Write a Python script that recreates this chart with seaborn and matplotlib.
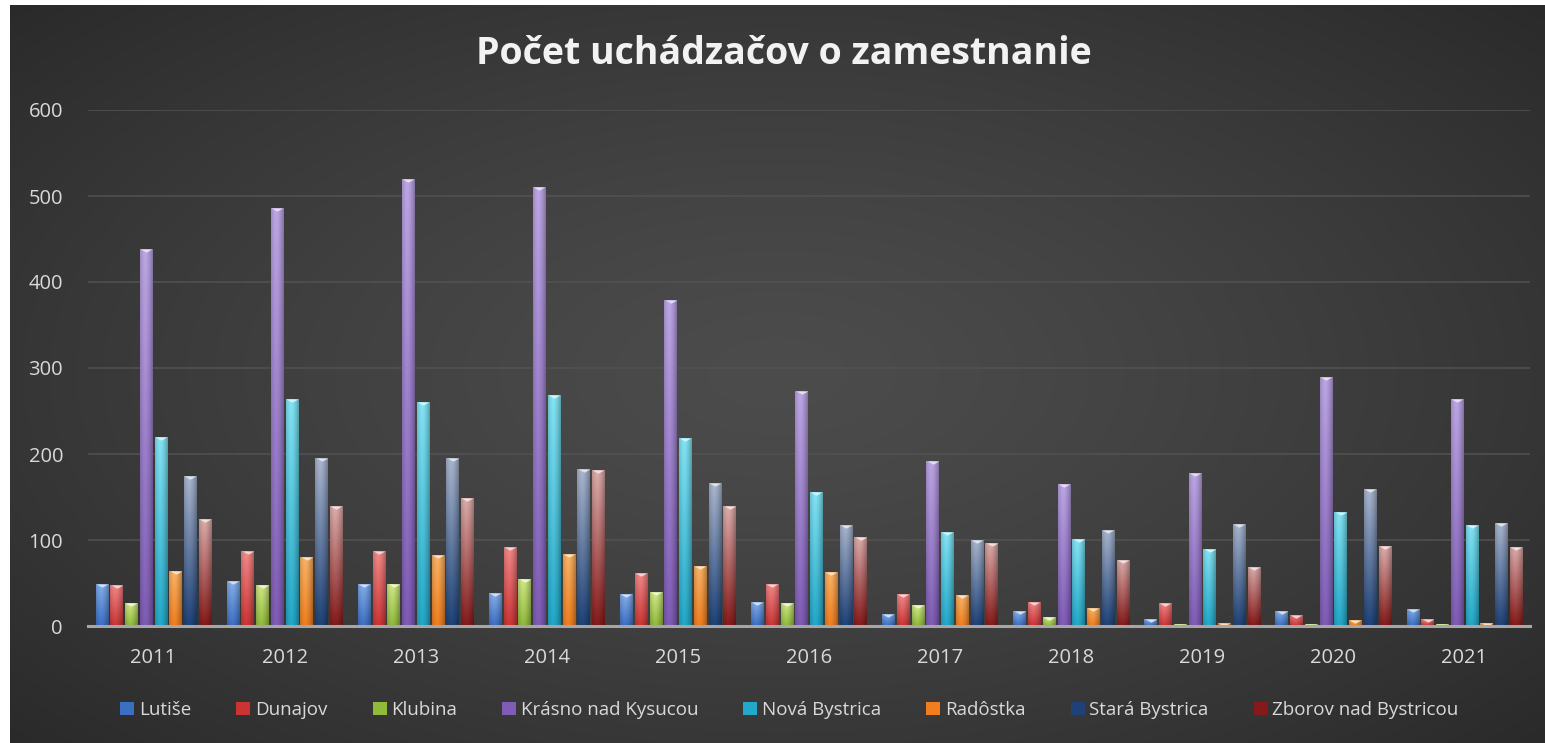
import numpy as np
import pandas as pd
import seaborn as sns
import matplotlib.pyplot as plt
from matplotlib.colors import to_rgb
from matplotlib.patches import Patch, Rectangle
from matplotlib.path import Path

# Údaje odčítané z grafu
roky = ['2011', '2012', '2013', '2014', '2015', '2016', '2017', '2018', '2019', '2020', '2021']
obce = ['Lutiše', 'Dunajov', 'Klubina', 'Krásno nad Kysucou', 'Nová Bystrica',
        'Radôstka', 'Stará Bystrica', 'Zborov nad Bystricou']
lutise = [49, 52, 49, 38, 37, 28, 14, 17, 8, 17, 20]
dunajov = [48, 87, 87, 92, 62, 49, 37, 28, 27, 13, 8]
klubina = [27, 48, 49, 55, 39, 27, 24, 10, 2, 2, 2]
krasno = [438, 486, 520, 511, 379, 273, 192, 165, 178, 289, 264]
nova_bystrica = [220, 264, 261, 269, 219, 156, 109, 101, 90, 133, 118]
radostka = [64, 80, 83, 84, 70, 63, 36, 21, 4, 7, 3]
stara_bystrica = [174, 195, 195, 182, 166, 118, 100, 112, 119, 159, 120]
zborov = [125, 139, 149, 181, 139, 104, 97, 77, 69, 93, 92]

hodnoty = [lutise, dunajov, klubina, krasno, nova_bystrica, radostka, stara_bystrica, zborov]

# farby: (hore, dole)
farby = [('#86b0ec', '#3b6fc4'), ('#f48a8a', '#cc3434'), ('#d2ea88', '#8fba3a'),
         ('#bca6e4', '#7f5cb6'), ('#84e4f4', '#22a8c8'), ('#fab466', '#f07e1e'),
         ('#aab6ce', '#1e4278'), ('#dcaeac', '#861a1a')]

df = pd.DataFrame({
    'rok': np.repeat([roky], len(obce), axis=0).ravel(),
    'obec': np.repeat(obce, len(roky)),
    'pocet': np.concatenate(hodnoty),
})

plt.rcParams['font.family'] = ['Open Sans', 'DejaVu Sans']
fig = plt.figure(figsize=(15.45, 7.43), dpi=100, facecolor='white')

# tmavé pozadie s jemným radiálnym prechodom
fig.patches.append(Rectangle((10 / 1545, 0), 1, 1 - 5 / 743, transform=fig.transFigure,
                             facecolor='#2a2a2a', edgecolor='none', zorder=-2))
bg = fig.add_axes([10 / 1545, 0, 1 - 10 / 1545, 1 - 5 / 743])
yy, xx = np.mgrid[0:1:200j, 0:1:400j]
r = np.sqrt(((xx - 0.5) / 0.75) ** 2 + ((yy - 0.5) / 0.8) ** 2)
r = np.clip(r, 0, 1)
c0, c1 = np.array(to_rgb('#4c4c4c')), np.array(to_rgb('#262626'))
img = c0 + (c1 - c0) * r[..., None] ** 1.3
bg.imshow(img, aspect='auto', extent=[0, 1, 0, 1], interpolation='bilinear')
bg.set_xlim(0, 1)
bg.set_ylim(0, 1)
bg.axis('off')

ax = fig.add_axes([88 / 1545, 1 - 626 / 743, (1530 - 88) / 1545, (626 - 110) / 743])
ax.set_facecolor('none')
paleta = {o: f[1] for o, f in zip(obce, farby)}
sns.barplot(data=df, x='rok', y='pocet', hue='obec', palette=paleta, width=0.9,
            gap=0.15, ax=ax, legend=False, zorder=2)

# gradient v stĺpcoch + trojuholníková čiapočka
cap = Path([(-1, 0), (1, 0), (0, -0.55), (-1, 0)],
           [Path.MOVETO, Path.LINETO, Path.LINETO, Path.CLOSEPOLY])
hx = np.linspace(0, 1, 30)
tien = 1 - 0.30 * np.abs((hx - 0.4) / 0.6) ** 1.6
for cont, (top, bot) in zip(ax.containers, farby):
    top, bot = np.array(to_rgb(top)), np.array(to_rgb(bot))
    t = np.linspace(0, 1, 80)[:, None, None]
    grad = (top * (1 - t) + bot * t) * tien[None, :, None]
    grad = np.clip(grad, 0, 1)
    light = top + (1 - top) * 0.6
    for bar in cont:
        x0, w, h = bar.get_x(), bar.get_width(), bar.get_height()
        bar.set_facecolor('none')
        bar.set_edgecolor('none')
        im = ax.imshow(grad, extent=[x0, x0 + w, 0, h], aspect='auto',
                       origin='upper', zorder=2)
        im.set_clip_path(bar)
        if h > 0:
            sc = ax.scatter([x0 + w / 2], [h], marker=cap, s=70, color=light,
                            linewidths=0, zorder=3)
            sc.set_clip_path(bar)

ax.set_xlim(-0.5, len(roky) - 0.5)
ax.set_ylim(0, 600)
ax.set_yticks(range(0, 601, 100))
ax.yaxis.grid(True, color='#525252', lw=1.1, zorder=0)
ax.set_axisbelow(True)
for s in ['top', 'left', 'right']:
    ax.spines[s].set_visible(False)
ax.spines['bottom'].set_color('#a6a6a6')
ax.spines['bottom'].set_linewidth(2.2)
ax.spines['bottom'].set_zorder(4)
ax.tick_params(axis='both', length=0, labelsize=14.5, labelcolor='#d9d9d9')
ax.tick_params(axis='y', pad=18)
ax.tick_params(axis='x', pad=16)
ax.set_xlabel('')
ax.set_ylabel('')

fig.text(0.5075, 1 - 54 / 743, 'Počet uchádzačov o zamestnanie', ha='center', va='center',
         fontsize=27, fontweight='bold', color='#f2f2f2')

handles = [Patch(facecolor=f[1], edgecolor='none') for f in farby]
fig.legend(handles, obce, loc='center', bbox_to_anchor=(0.511, 1 - 710 / 743), ncol=8,
           frameon=False, fontsize=13.5, labelcolor='#d9d9d9', handlelength=0.75,
           handleheight=0.75, handletextpad=0.25, columnspacing=2.4)

fig.savefig('out.png', dpi=100, facecolor='white')
